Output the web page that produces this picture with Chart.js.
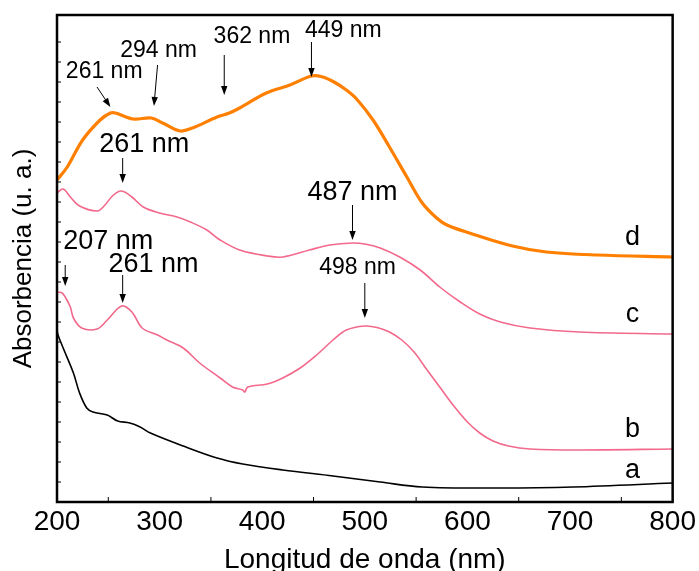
<!DOCTYPE html>
<html>
<head>
<meta charset="utf-8">
<script src="https://cdn.jsdelivr.net/npm/chart.js@4.4.0/dist/chart.umd.min.js"></script>
<style>
  html, body { margin: 0; padding: 0; background: #fff; }
  #wrap { width: 699px; height: 571px; position: relative; }
</style>
</head>
<body>
<div id="wrap"><canvas id="uvChart"></canvas></div>
<script>
// UV-vis spectra (absorbance in arbitrary units)
const waveA = [200, 201, 206, 216, 222, 229, 235, 249, 259, 271, 281, 291, 323, 356, 381, 420, 469, 515, 556, 632, 703, 800];
const absA  = [1.72, 1.67, 1.54, 1.29, 1.09, 0.94, 0.90, 0.87, 0.81, 0.79, 0.75, 0.69, 0.56, 0.44, 0.38, 0.32, 0.26, 0.20, 0.15, 0.14, 0.15, 0.19];

const waveB = [201, 205, 208, 213, 216, 224, 239, 249, 263, 273, 283, 298, 307, 323, 339, 359, 371, 381, 383, 386, 405, 420, 437, 453, 469, 482, 500, 512, 524, 536, 548, 560, 573, 586, 600, 612, 625, 640, 661, 709, 800];
const absB  = [2.10, 2.09, 2.05, 1.95, 1.84, 1.74, 1.73, 1.82, 1.96, 1.90, 1.74, 1.67, 1.62, 1.54, 1.39, 1.24, 1.15, 1.12, 1.10, 1.15, 1.18, 1.24, 1.34, 1.47, 1.62, 1.72, 1.76, 1.745, 1.70, 1.62, 1.50, 1.33, 1.15, 0.97, 0.80, 0.69, 0.61, 0.56, 0.53, 0.52, 0.53];

const waveC = [200, 206, 213, 222, 239, 245, 255, 263, 273, 284, 300, 317, 330, 346, 359, 378, 405, 420, 446, 466, 488, 500, 515, 534, 554, 573, 593, 612, 632, 661, 709, 800];
const absC  = [3.09, 3.13, 3.05, 2.96, 2.91, 2.95, 3.07, 3.11, 3.05, 2.95, 2.89, 2.85, 2.80, 2.72, 2.62, 2.52, 2.46, 2.45, 2.52, 2.57, 2.59, 2.58, 2.54, 2.45, 2.32, 2.15, 2.00, 1.88, 1.80, 1.74, 1.70, 1.68];

const waveD = [200, 210, 225, 242, 252, 257, 274, 292, 303, 320, 332, 356, 368, 378, 404, 427, 448, 459, 470, 482, 492, 508, 524, 541, 556, 570, 580, 602, 644, 677, 726, 800];
const absD  = [3.22, 3.35, 3.62, 3.82, 3.89, 3.89, 3.83, 3.84, 3.79, 3.71, 3.74, 3.85, 3.89, 3.94, 4.09, 4.17, 4.26, 4.25, 4.20, 4.12, 4.03, 3.82, 3.55, 3.25, 2.99, 2.84, 2.77, 2.69, 2.56, 2.50, 2.47, 2.45];

const curveNames = ['a', 'b', 'c', 'd'];
const xTicks = [200, 300, 400, 500, 600, 700, 800];

const FONT = "'Liberation Sans', Arial, Helvetica, sans-serif";
const PINK = '#f2698c';
const ORANGE = '#ff8000';

const toPoints = (xs, ys) => xs.map((x, i) => ({ x: x, y: ys[i] }));

// peak labels with arrows (in data units)
const peakNotes = [
  { text: '261 nm', big: false, x: 246, y: 4.24, from: [239, 4.15], to: [252, 3.95] },
  { text: '294 nm', big: false, x: 299, y: 4.45, from: [298, 4.37], to: [294.5, 3.96] },
  { text: '362 nm', big: false, x: 390, y: 4.59, from: [363, 4.47], to: [363, 4.07] },
  { text: '449 nm', big: false, x: 479, y: 4.65, from: [448, 4.60], to: [448, 4.25] },
  { text: '261 nm', big: true,  x: 285, y: 3.50, from: [264, 3.44], to: [264, 3.19] },
  { text: '487 nm', big: true,  x: 488, y: 3.02, from: [488, 2.97], to: [488, 2.62] },
  { text: '207 nm', big: true,  x: 250, y: 2.53, from: [208, 2.37], to: [208, 2.16] },
  { text: '261 nm', big: true,  x: 294, y: 2.30, from: [264, 2.27], to: [264, 1.99] },
  { text: '498 nm', big: false, x: 493, y: 2.28, from: [500, 2.19], to: [500, 1.84] }
];
// curve letters at the right
const letterX = 761;
const letterY = [0.24, 0.65, 1.80, 2.57];

const decorPlugin = {
  id: 'decor',
  afterDatasetsDraw(chart) {
    const { ctx, chartArea: a, scales: { x, y } } = chart;
    ctx.save();

    // frame
    ctx.strokeStyle = '#000';
    ctx.lineWidth = 2.5;
    ctx.strokeRect(a.left, a.top, a.right - a.left, a.bottom - a.top);

    // inward minor ticks
    ctx.lineWidth = 1;
    ctx.beginPath();
    for (let v = 250; v < 800; v += 100) {
      const px = x.getPixelForValue(v);
      ctx.moveTo(px, a.bottom);
      ctx.lineTo(px, a.bottom - 5);
    }
    for (let v = 0.2; v < 4.8; v += 0.2) {
      const py = y.getPixelForValue(v);
      ctx.moveTo(a.left, py);
      ctx.lineTo(a.left + 4, py);
    }
    ctx.stroke();

    // peak labels and arrows
    ctx.fillStyle = '#000';
    ctx.textAlign = 'center';
    ctx.textBaseline = 'alphabetic';
    peakNotes.forEach(n => {
      ctx.font = (n.big ? '27px ' : '23px ') + FONT;
      ctx.fillText(n.text, x.getPixelForValue(n.x), y.getPixelForValue(n.y));
      const x1 = x.getPixelForValue(n.from[0]), y1 = y.getPixelForValue(n.from[1]);
      const x2 = x.getPixelForValue(n.to[0]), y2 = y.getPixelForValue(n.to[1]);
      const ang = Math.atan2(y2 - y1, x2 - x1);
      const len = 9, hw = 3.2;
      ctx.beginPath();
      ctx.moveTo(x1, y1);
      ctx.lineTo(x2 - Math.cos(ang) * len * 0.8, y2 - Math.sin(ang) * len * 0.8);
      ctx.stroke();
      ctx.beginPath();
      ctx.moveTo(x2, y2);
      ctx.lineTo(x2 - Math.cos(ang) * len - Math.sin(ang) * hw, y2 - Math.sin(ang) * len + Math.cos(ang) * hw);
      ctx.lineTo(x2 - Math.cos(ang) * len + Math.sin(ang) * hw, y2 - Math.sin(ang) * len - Math.cos(ang) * hw);
      ctx.closePath();
      ctx.fill();
    });

    ctx.font = '27px ' + FONT;
    curveNames.forEach((name, i) => {
      ctx.fillText(name, x.getPixelForValue(letterX), y.getPixelForValue(letterY[i]));
    });
    ctx.restore();
  }
};

const lineSet = (label, pts, color, width) => ({
  label: label,
  data: pts,
  borderColor: color,
  backgroundColor: color,
  borderWidth: width,
  borderJoinStyle: 'round',
  pointRadius: 0,
  fill: false,
  tension: 0.35
});

new Chart(document.getElementById('uvChart').getContext('2d'), {
  type: 'line',
  data: {
    datasets: [
      lineSet('a', toPoints(waveA, absA), '#000000', 1.6),
      lineSet('b', toPoints(waveB, absB), PINK, 1.6),
      lineSet('c', toPoints(waveC, absC), PINK, 1.6),
      lineSet('d', toPoints(waveD, absD), ORANGE, 3.2)
    ]
  },
  options: {
    responsive: true,
    maintainAspectRatio: false,
    animation: false,
    layout: { padding: { top: 15, right: 26, left: 0, bottom: 0 } },
    plugins: {
      legend: { display: false },
      tooltip: { enabled: false }
    },
    scales: {
      x: {
        type: 'linear',
        min: 200,
        max: 800,
        afterBuildTicks: s => { s.ticks = xTicks.map(v => ({ value: v })); },
        ticks: { font: { family: FONT, size: 28 }, color: '#000', padding: 3, maxRotation: 0 },
        grid: { display: false, drawTicks: false },
        border: { display: false },
        title: {
          display: true,
          text: 'Longitud de onda (nm)',
          font: { family: FONT, size: 28, lineHeight: 1 },
          color: '#000',
          padding: { top: 0, bottom: -3 }
        },
        afterFit: s => { s.height = 69; }
      },
      y: {
        min: 0,
        max: 4.87,
        ticks: { display: false },
        grid: { display: false, drawTicks: false },
        border: { display: false },
        title: {
          display: true,
          text: 'Absorbencia (u. a.)',
          font: { family: FONT, size: 26, lineHeight: 1.2 },
          color: '#000',
          padding: { top: 8, bottom: 0 }
        },
        afterFit: s => { s.width = 57; }
      }
    }
  },
  plugins: [decorPlugin]
});
</script>
</body>
</html>
